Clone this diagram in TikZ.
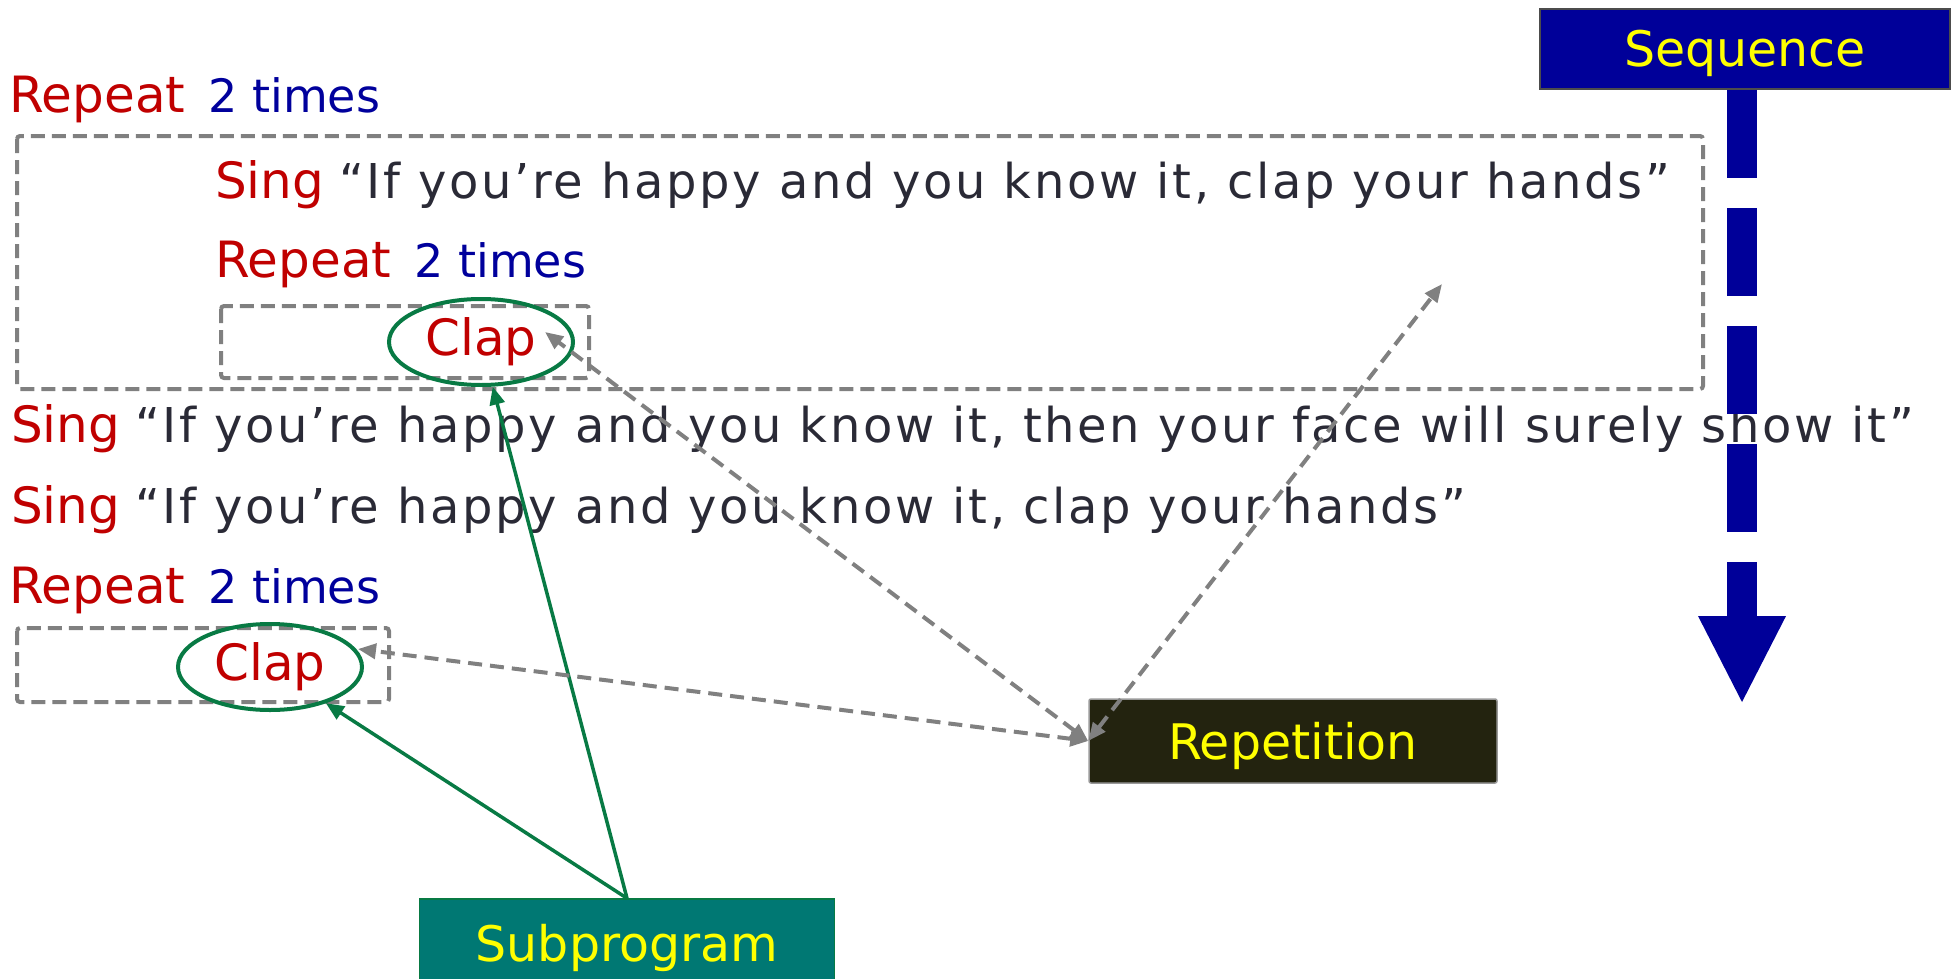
\documentclass[tikz,border=0pt]{standalone}
\usepackage{fontspec}
\setmainfont{DejaVu Sans}
\newfontfamily\lyricfont[LetterSpace=5.5]{DejaVu Sans}
\usetikzlibrary{shapes.geometric,arrows.meta}

\definecolor{kwred}{HTML}{C00000}
\definecolor{cntblue}{HTML}{00009C}
\definecolor{lyricgrey}{HTML}{2A2A36}
\definecolor{loopgrey}{HTML}{808080}
\definecolor{clapgreen}{HTML}{087A44}
\definecolor{seqblue}{HTML}{000099}
\definecolor{repdark}{HTML}{23230F}
\definecolor{subteal}{HTML}{007873}
\definecolor{tagyellow}{HTML}{FFFF00}

\newcommand{\kw}[1]{\textcolor{kwred}{\fontsize{50}{60}\selectfont #1}}
\newcommand{\cnt}[1]{\hspace{8pt}\textcolor{cntblue}{\fontsize{46}{55}\selectfont #1}}
\newcommand{\lyric}[1]{\textcolor{lyricgrey}{\lyricfont\fontsize{48}{58}\selectfont #1}}

\tikzstyle{textline} = [anchor=base west, inner sep=0pt, font=\fontsize{48}{58}\selectfont]
\tikzstyle{loopbox} = [draw=loopgrey, line width=4pt, dash pattern=on 14pt off 7pt, rounded corners=3pt]
\tikzstyle{clapring} = [ellipse, draw=clapgreen, line width=4pt, minimum width=184pt, minimum height=86pt, inner sep=0pt]
\tikzstyle{tag} = [rectangle, text=tagyellow, font=\fontsize{49}{58}\selectfont, text height=36pt, text depth=0pt, inner sep=0pt]
\tikzstyle{subarrow} = [draw=clapgreen, line width=3.5pt, -{Triangle[length=18pt,width=15pt]}]
\tikzstyle{reparrow} = [draw=loopgrey, line width=4pt, dash pattern=on 14pt off 8pt, {Triangle[length=18pt,width=15pt]}-{Triangle[length=18pt,width=15pt]}]
\tikzstyle{seqflow} = [draw=seqblue, line width=30pt, dash pattern=on 88pt off 30pt]

\begin{document}
\begin{tikzpicture}[x=1pt,y=-1pt]

	\useasboundingbox (0,0) rectangle (1958,979);

	\def \indent {215}

	% program text
	\node (repA) [textline] at (9,113) {\kw{Repeat} \cnt{2 times}};
	\draw [loopbox] (17,136) rectangle (1703,389);
	\node (singB) [textline] at (\indent,198) {\kw{Sing} \lyric{“If you’re happy and you know it, clap your hands”}};
	\node (repC) [textline] at (\indent,277) {\kw{Repeat} \cnt{2 times}};
	\draw [loopbox] (221,306) rectangle (589,378);
	\node (clap1) [clapring] at (481,342) {\kw{Clap}};
	\node (singD) [textline] at (11,442) {\kw{Sing} \lyric{“If you’re happy and you know it, then your face will surely show it”}};
	\node (singE) [textline] at (11,523) {\kw{Sing} \lyric{“If you’re happy and you know it, clap your hands”}};
	\node (repF) [textline] at (9,603) {\kw{Repeat} \cnt{2 times}};
	\draw [loopbox] (17,628) rectangle (389,702);
	\node (clap2) [clapring] at (270,667) {\kw{Clap}};

	% tags
	\node (seq) [tag, fill=seqblue, draw=black!70, line width=2pt, minimum width=410pt, minimum height=80pt] at (1745,49) {Sequence};
	\node (rep) [tag, fill=repdark, draw=black!40, line width=1.5pt, rounded corners=2pt, minimum width=408pt, minimum height=84pt] at (1293,741) {Repetition};
	\node (sub) [tag, fill=subteal, draw=clapgreen, line width=1.5pt, minimum width=415pt, minimum height=88pt] at (627,943) {Subprogram};
	\coordinate (seqhead) at (1742,616);
	\coordinate (seqtip) at (1742,702);
	\coordinate (hands) at (1442,284);

	%arrow
	\draw [seqflow] (seqhead |- seq.south) -- (seqhead);
	\fill [seqblue] ([xshift=-44pt]seqhead) -- ([xshift=44pt]seqhead) -- (seqtip) -- cycle;
	\draw [subarrow] (sub.north) -- (clap1);
	\draw [subarrow] (sub.north) -- (clap2);
	\draw [reparrow] (rep.west) -- ([xshift=64pt,yshift=10pt]clap1.center);
	\draw [reparrow] (rep.west) -- (hands);
	\draw [reparrow] (rep.west) -- ([xshift=88pt,yshift=18pt]clap2.center);

\end{tikzpicture}
\end{document}
